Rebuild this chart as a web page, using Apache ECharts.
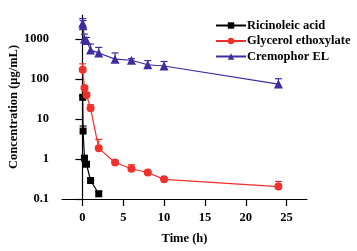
<!DOCTYPE html>
<html>
<head>
<meta charset="utf-8">
<script src="https://cdn.jsdelivr.net/npm/echarts@6/dist/echarts.min.js"></script>
<style>
  html, body { margin: 0; padding: 0; background: #fff; }
  #chart { width: 357px; height: 251px; }
</style>
</head>
<body>
<div id="chart"></div>
<script>
// sampling times (h) and mean concentrations (ug/mL), upper error = mean + SD
const ricTimes = [0.033, 0.083, 0.25, 0.5, 1, 2]
const ricValues = [35, 5.0, 1.05, 0.74, 0.29, 0.135]
const ricUpper = [38, 6.7, 1.1, 0.78, 0.33, 0.155]

const glyTimes = [0.033, 0.25, 0.5, 1, 2, 4, 6, 8, 10, 24]
const glyValues = [170, 60, 40, 18.5, 1.85, 0.82, 0.57, 0.46, 0.31, 0.205]
const glyUpper = [240, 66, 46, 22.8, 3.1, 0.9, 0.72, 0.5, 0.33, 0.275]

const creTimes = [0.033, 0.083, 0.25, 0.5, 1, 2, 4, 6, 8, 10, 24]
const creValues = [2500, 2150, 1000, 920, 530, 450, 315, 295, 228, 212, 75]
const creUpper = [3250, 2900, 1330, 1100, 750, 620, 450, 325, 290, 275, 102]

const xTicks = [0, 5, 10, 15, 20, 25]
const yTicks = [0.1, 1, 10, 100, 1000]

const FONT = 'Liberation Serif'
const BLACK = '#000000'
const RED = '#f0302a'
const BLUE = '#3c2ea0'

const pairs = (xs, ys) => xs.map((x, i) => [x, ys[i]])

const errorSeries = (xs, ys, up, color) => ({
  type: 'custom',
  silent: true,
  z: 1,
  data: xs.map((x, i) => [x, ys[i], up[i]]),
  renderItem: (params, api) => {
    const p0 = api.coord([api.value(0), api.value(1)])
    const p1 = api.coord([api.value(0), api.value(2)])
    const half = 3.5
    const style = { stroke: color, lineWidth: 1.2 }
    return {
      type: 'group',
      children: [
        { type: 'line', shape: { x1: p0[0], y1: p0[1], x2: p1[0], y2: p1[1] }, style },
        { type: 'line', shape: { x1: p1[0] - half, y1: p1[1], x2: p1[0] + half, y2: p1[1] }, style }
      ]
    }
  }
})

const lineSeries = (name, xs, ys, color, symbol, size) => ({
  name,
  type: 'line',
  data: pairs(xs, ys),
  symbol,
  symbolSize: size,
  showAllSymbol: true,
  z: 3,
  lineStyle: { color, width: 1.2 },
  itemStyle: { color }
})

const chart = echarts.init(document.getElementById('chart'))

const option = {
  animation: false,
  textStyle: { fontFamily: FONT },
  grid: { left: 62, right: 50, top: 15, bottom: 52, outerBoundsMode: 'none' },
  legend: {
    orient: 'vertical',
    left: 210,
    top: 14,
    itemWidth: 30,
    itemHeight: 8,
    itemGap: 2.5,
    data: ['Ricinoleic acid', 'Glycerol ethoxylate', 'Cremophor EL'],
    textStyle: { fontFamily: FONT, fontWeight: 'bold', fontSize: 12.5, color: '#000', padding: [0, 0, 0, -4] }
  },
  xAxis: {
    type: 'value',
    min: -2.5,
    max: 27.5,
    name: 'Time (h)',
    nameLocation: 'middle',
    nameGap: 33,
    nameMoveOverlap: false,
    nameTextStyle: { fontFamily: FONT, fontWeight: 'bold', fontSize: 12.5, color: '#000' },
    axisLine: { onZero: false, lineStyle: { color: '#000', width: 1.2 } },
    axisTick: { show: true, length: 7, customValues: xTicks, lineStyle: { color: '#000', width: 1.2 } },
    axisLabel: { customValues: xTicks, margin: 12, fontFamily: FONT, fontWeight: 'bold', fontSize: 12.5, color: '#000' },
    splitLine: { show: false }
  },
  yAxis: {
    type: 'log',
    min: 0.1,
    max: 4000,
    name: 'Concentration (μg/mL)',
    nameLocation: 'middle',
    nameGap: 42,
    nameMoveOverlap: false,
    nameTextStyle: { fontFamily: FONT, fontWeight: 'bold', fontSize: 12.5, color: '#000' },
    axisLine: { show: true, lineStyle: { color: '#000', width: 1.2 } },
    axisTick: { show: true, length: 7, customValues: yTicks, lineStyle: { color: '#000', width: 1.2 } },
    axisLabel: {
      customValues: yTicks,
      margin: 13,
      formatter: v => String(v),
      fontFamily: FONT, fontWeight: 'bold', fontSize: 12.5, color: '#000'
    },
    splitLine: { show: false }
  },
  series: [
    errorSeries(ricTimes, ricValues, ricUpper, BLACK),
    errorSeries(glyTimes, glyValues, glyUpper, RED),
    errorSeries(creTimes, creValues, creUpper, BLUE),
    lineSeries('Ricinoleic acid', ricTimes, ricValues, BLACK, 'rect', 7),
    lineSeries('Glycerol ethoxylate', glyTimes, glyValues, RED, 'circle', 8),
    lineSeries('Cremophor EL', creTimes, creValues, BLUE, 'triangle', 9)
  ]
}

chart.setOption(option)
</script>
</body>
</html>
